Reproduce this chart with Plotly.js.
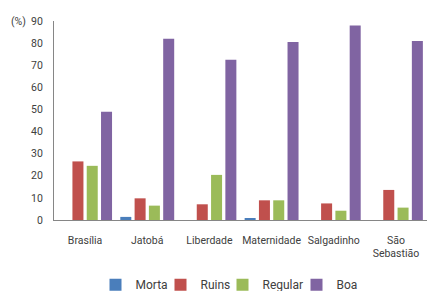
<!DOCTYPE html>
<html><head><meta charset="utf-8">
<script src="https://cdn.plot.ly/plotly-3.0.1.min.js"></script>
<style>html,body{margin:0;padding:0;background:#fff;}#c{width:427px;height:291px;}</style>
</head><body><div id="c"></div>
<script>
var categories = ["Brasília", "Jatobá", "Liberdade", "Maternidade", "Salgadinho", "São<br>Sebastião"];
var morta   = [0, 1.4, 0, 0.9, 0, 0];
var ruins   = [26.5, 9.8, 7.1, 8.9, 7.5, 13.6];
var regular = [24.5, 6.5, 20.4, 8.9, 4.2, 5.6];
var boa     = [49, 82, 72.5, 80.5, 88, 81];
var yTicks  = [0, 10, 20, 30, 40, 50, 60, 70, 80, 90];

var names = ["Morta", "Ruins", "Regular", "Boa"];
var colors = ["#4a7ebb", "#c0504d", "#9bbb59", "#8064a2"];
var legendIds = ["legend", "legend2", "legend3", "legend4"];
var series = [morta, ruins, regular, boa];
var traces = series.map(function(s, i){
  return {type:"bar", x:categories, y:s, name:names[i], marker:{color:colors[i]}, legend:legendIds[i]};
});
var font = {family:"Roboto, sans-serif", size:10.5, color:"#404040"};
var lfont = {family:"Roboto, sans-serif", size:12, color:"#404040"};
var L = 54, W = 373;
var legendPx = [95.5, 160.5, 222.5, 296.5];
var layout = {
  width:427, height:291,
  margin:{l:L, r:0, t:21, b:71, autoexpand:false},
  paper_bgcolor:"#fff", plot_bgcolor:"#fff",
  barmode:"group", bargap:0.08, bargroupgap:0.23,
  font:font,
  xaxis:{showgrid:false, showline:true, linecolor:"#868686", linewidth:1, ticks:"", tickfont:font, ticklabelstandoff:10},
  yaxis:{range:[0,90], tickvals:yTicks, showgrid:false, zeroline:false, showline:true, linecolor:"#868686", linewidth:1, ticks:"", tickfont:font, ticklen:0, ticklabelstandoff:8},
  showlegend:true,
  annotations:[{text:"(%)", xref:"paper", yref:"paper", x:0, y:1, xanchor:"right", yanchor:"middle", xshift:-26, showarrow:false, font:font}]
};
legendIds.forEach(function(id, i){
  layout[id] = {orientation:"h", x:(legendPx[i]-L)/W, xanchor:"left", y:-0.325, yanchor:"middle", font:lfont, itemwidth:30, bgcolor:"rgba(0,0,0,0)"};
});
Plotly.newPlot("c", traces, layout, {displayModeBar:false, staticPlot:true});
</script></body></html>
